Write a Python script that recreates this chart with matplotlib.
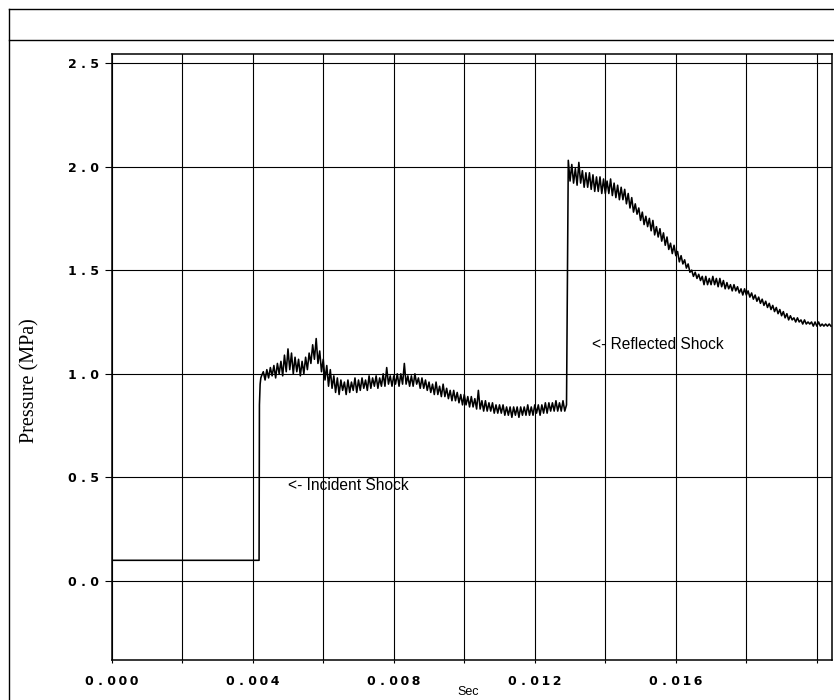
import numpy as np
import matplotlib
matplotlib.use("Agg")
import matplotlib.pyplot as plt
from matplotlib.lines import Line2D

# ---------------- data ----------------
baseline_time = [0.0, 0.00418]
baseline_pressure = [0.10, 0.10]

rise_time = [0.00419, 0.00421, 0.00423]
rise_pressure = [0.85, 0.95, 0.98]

sample_step = 0.00005

incident_start = 0.00425
incident_pressure = [
    0.99, 1.01, 0.97, 1.02, 0.98, 1.03, 0.99, 1.04, 0.98, 1.05,
    1.00, 1.06, 0.99, 1.09, 1.01, 1.12, 1.02, 1.10, 1.00, 1.08,
    1.01, 1.07, 0.99, 1.06, 1.00, 1.08, 1.02, 1.10, 1.05, 1.14,
    1.07, 1.17, 1.05, 1.11, 1.01, 1.07, 0.97, 1.04, 0.94, 1.02,
    0.93, 0.99, 0.91, 0.98, 0.90, 0.97, 0.92, 0.96, 0.90, 0.97,
    0.91, 0.96, 0.92, 0.98, 0.91, 0.97, 0.92, 0.98, 0.93, 0.97,
    0.92, 0.99, 0.93, 0.98, 0.94, 0.99, 0.93, 0.98, 0.94, 1.00,
    0.94, 1.03, 0.95, 0.99, 0.94, 0.99, 0.95, 1.00, 0.94, 1.00,
    0.95, 1.05, 0.95, 0.99, 0.94, 0.99, 0.94, 1.00, 0.95, 0.98,
    0.93, 0.98, 0.93, 0.97, 0.92, 0.96, 0.91, 0.95, 0.90, 0.96,
    0.90, 0.94, 0.89, 0.95, 0.89, 0.93, 0.88, 0.92, 0.87, 0.92,
    0.87, 0.91, 0.86, 0.90, 0.85, 0.90, 0.85, 0.89, 0.84, 0.89,
    0.84, 0.88, 0.83, 0.92, 0.83, 0.87, 0.82, 0.87, 0.82, 0.86,
    0.82, 0.86, 0.81, 0.85, 0.81, 0.85, 0.81, 0.85, 0.80, 0.84,
    0.80, 0.84, 0.79, 0.84, 0.80, 0.84, 0.79, 0.84, 0.80, 0.84,
    0.80, 0.85, 0.80, 0.84, 0.80, 0.85, 0.81, 0.85, 0.80, 0.85,
    0.81, 0.86, 0.81, 0.86, 0.82, 0.86, 0.82, 0.87, 0.82, 0.86,
    0.82, 0.87, 0.82, 0.85,
]

reflected_start = 0.01295
reflected_pressure = [
    2.03, 1.93, 2.01, 1.92, 1.99, 1.91, 2.02, 1.92, 1.98, 1.90,
    1.97, 1.90, 1.97, 1.89, 1.96, 1.88, 1.95, 1.88, 1.95, 1.87,
    1.94, 1.87, 1.93, 1.87, 1.94, 1.86, 1.92, 1.85, 1.91, 1.84,
    1.90, 1.84, 1.89, 1.82, 1.87, 1.80, 1.85, 1.78, 1.82, 1.77,
    1.80, 1.74, 1.78, 1.72, 1.76, 1.71, 1.75, 1.69, 1.74, 1.67,
    1.71, 1.66, 1.70, 1.64, 1.68, 1.62, 1.66, 1.60, 1.63, 1.58,
    1.62, 1.57, 1.59, 1.54, 1.57, 1.53, 1.55, 1.51, 1.53, 1.49,
    1.50, 1.47, 1.49, 1.46, 1.48, 1.45, 1.47, 1.43, 1.47, 1.43,
    1.46, 1.43, 1.47, 1.43, 1.46, 1.42, 1.46, 1.42, 1.45, 1.41,
    1.44, 1.41, 1.43, 1.40, 1.43, 1.40, 1.42, 1.39, 1.41, 1.38,
    1.41, 1.38, 1.40, 1.37, 1.39, 1.36, 1.38, 1.35, 1.37, 1.34,
    1.36, 1.33, 1.35, 1.32, 1.34, 1.31, 1.33, 1.30, 1.32, 1.29,
    1.31, 1.28, 1.30, 1.27, 1.29, 1.26, 1.28, 1.26, 1.27, 1.25,
    1.27, 1.25, 1.26, 1.24, 1.26, 1.24, 1.25, 1.24, 1.25, 1.23,
    1.25, 1.23, 1.25, 1.23, 1.24, 1.23, 1.24, 1.23, 1.24, 1.23,
]

x_ticks = [0.000, 0.002, 0.004, 0.006, 0.008, 0.010, 0.012, 0.014, 0.016, 0.018, 0.020]
x_tick_labels = ["0.000", "", "0.004", "", "0.008", "", "0.012", "", "0.016", "", ""]
y_ticks = [0.0, 0.5, 1.0, 1.5, 2.0, 2.5]
y_tick_labels = ["0.0", "0.5", "1.0", "1.5", "2.0", "2.5"]

x_label = "Sec"
y_label = "Pressure (MPa)"
incident_note = ("<- Incident Shock", 0.00500, 0.463)
reflected_note = ("<- Reflected Shock", 0.01363, 1.139)


def spaced(label):
    """Mimic the wide letter spacing of the plotter's tick font."""
    if not label:
        return label
    head, tail = label.split(".")
    return head + " . " + "\u2009".join(tail)


# ---------------- assemble the trace ----------------
incident_time = incident_start + sample_step * np.arange(len(incident_pressure))
reflected_time = reflected_start + sample_step * np.arange(len(reflected_pressure))

time = np.concatenate([baseline_time, rise_time, incident_time, reflected_time])
pressure = np.concatenate([baseline_pressure, rise_pressure, incident_pressure, reflected_pressure])

# ---------------- figure ----------------
W, H = 834, 700
fig = plt.figure(figsize=(W / 100, H / 100), dpi=100)
ax = fig.add_axes([111.7 / W, 1 - 660 / H, (832 - 111.7) / W, (660 - 54) / H])

ax.plot(time, pressure, color="black", lw=1.15, zorder=3)

ax.set_xlim(0, 0.02043)
ax.set_ylim(-0.381, 2.543)

ax.set_xticks(x_ticks)
ax.set_xticklabels([spaced(s) for s in x_tick_labels])
ax.set_yticks(y_ticks)
ax.set_yticklabels([spaced(s) for s in y_tick_labels])

for lab in ax.get_xticklabels() + ax.get_yticklabels():
    lab.set_fontfamily("DejaVu Sans")
    lab.set_fontweight("bold")
    lab.set_fontsize(9)

ax.tick_params(axis="y", direction="out", length=5, width=0.8, pad=4.5, colors="black")
ax.tick_params(axis="x", direction="out", length=2, width=0.8, pad=9, colors="black")

ax.grid(True, color="black", lw=0.8)
ax.set_axisbelow(True)
for sp in ax.spines.values():
    sp.set_linewidth(1.1)
    sp.set_color("black")

ax.set_xlabel(x_label, family=["Liberation Sans", "DejaVu Sans"], fontsize=9)
ax.xaxis.set_label_coords((468 - 111.7) / (832 - 111.7), (660 - 686) / 606)

ax.set_ylabel(y_label, family=["Liberation Serif", "DejaVu Serif"], fontsize=14.5)
ax.yaxis.label.set_va("center")
ax.yaxis.set_label_coords((30 - 111.7) / (832 - 111.7), (660 - 381) / 606)

for text, tx, py in (incident_note, reflected_note):
    ax.text(tx, py, text, family=["Liberation Sans", "DejaVu Sans"], fontsize=11.2,
            ha="left", va="center", zorder=4)

# outer page frame of the scanned plot
frame_kw = dict(color="black", lw=1.0, transform=fig.transFigure)
fig.add_artist(Line2D([9 / W, 9 / W], [0, 1 - 9 / H], **frame_kw))
fig.add_artist(Line2D([9 / W, 1], [1 - 9 / H, 1 - 9 / H], **frame_kw))
fig.add_artist(Line2D([9 / W, 1], [1 - 40 / H, 1 - 40 / H], **frame_kw))

fig.savefig("out.png", dpi=100)
